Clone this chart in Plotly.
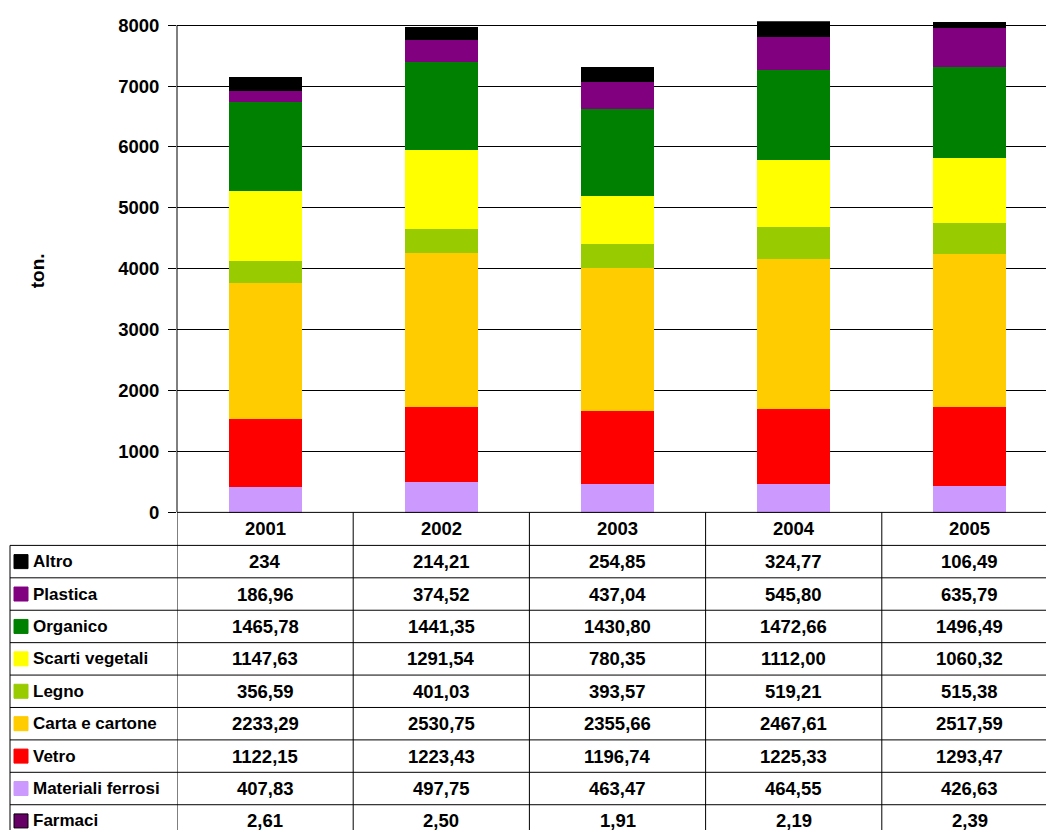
import plotly.graph_objects as go

# Raccolta differenziata per anno (tonnellate), valori come riportati in tabella
anni = ["2001", "2002", "2003", "2004", "2005"]

altro = ["234", "214,21", "254,85", "324,77", "106,49"]
plastica = ["186,96", "374,52", "437,04", "545,80", "635,79"]
organico = ["1465,78", "1441,35", "1430,80", "1472,66", "1496,49"]
scarti_vegetali = ["1147,63", "1291,54", "780,35", "1112,00", "1060,32"]
legno = ["356,59", "401,03", "393,57", "519,21", "515,38"]
carta_cartone = ["2233,29", "2530,75", "2355,66", "2467,61", "2517,59"]
vetro = ["1122,15", "1223,43", "1196,74", "1225,33", "1293,47"]
materiali_ferrosi = ["407,83", "497,75", "463,47", "464,55", "426,63"]
farmaci = ["2,61", "2,50", "1,91", "2,19", "2,39"]

y_ticks = [0, 1000, 2000, 3000, 4000, 5000, 6000, 7000, 8000]

# table order (top to bottom); bars are stacked in reverse order
serie = [
    ("Altro", altro, "#000000"),
    ("Plastica", plastica, "#800080"),
    ("Organico", organico, "#008000"),
    ("Scarti vegetali", scarti_vegetali, "#FFFF00"),
    ("Legno", legno, "#99CC00"),
    ("Carta e cartone", carta_cartone, "#FFCC00"),
    ("Vetro", vetro, "#FF0000"),
    ("Materiali ferrosi", materiali_ferrosi, "#CC99FF"),
    ("Farmaci", farmaci, "#660066"),
]


def num(s):
    return float(s.replace(",", "."))


# layout positions are given in screen pixels; the page body keeps its
# 8px top margin and the screen shows the page at ~0.98 vertical scale
W, H = 1046, 840
TOP = 8
K = 0.9805
SHIFT = 2
PLOT_L, PLOT_B, PLOT_T = 177, 512, 21
Y8000 = 25
CAT_W = 176.2
x_max = -0.5 + (W - PLOT_L) / CAT_W
px_per_unit = (PLOT_B - Y8000) / 8000.0
y_max = (PLOT_B - PLOT_T) / px_per_unit


def px(x):
    return x / W


def py(y):
    return 1 - ((y + SHIFT) / K - TOP) / H


FONT = "Liberation Sans, Arial, sans-serif"
FS = 17        # names
FS_NUM = 18.5  # numbers

fig = go.Figure()
xs = list(range(len(anni)))
for nome, valori, colore in reversed(serie):
    fig.add_trace(go.Bar(
        x=xs, y=[num(v) for v in valori], name=nome,
        marker=dict(color=colore, line=dict(width=0)),
        showlegend=False,
    ))

shapes = []
annotations = []

# left axis line, from 0 up to the last tick
shapes.append(dict(type="line", xref="paper", yref="y",
                   x0=px(PLOT_L), x1=px(PLOT_L), y0=0, y1=y_ticks[-1],
                   line=dict(color="black", width=1)))

# data table below the bars
HEAD_TOP, HEAD_BOT = PLOT_B, 545
ROW_H = 32.4
TABLE_L = 10
n_rows = len(serie)

# horizontal lines
shapes.append(dict(type="line", xref="paper", yref="paper",
                   x0=px(PLOT_L), x1=1, y0=py(HEAD_TOP), y1=py(HEAD_TOP),
                   line=dict(color="black", width=1)))
for i in range(n_rows + 1):
    yy = HEAD_BOT + i * ROW_H
    shapes.append(dict(type="line", xref="paper", yref="paper",
                       x0=px(TABLE_L), x1=1, y0=py(yy), y1=py(yy),
                       line=dict(color="black", width=1)))
# vertical lines
shapes.append(dict(type="line", xref="paper", yref="paper",
                   x0=px(TABLE_L), x1=px(TABLE_L), y0=py(HEAD_BOT), y1=0,
                   line=dict(color="black", width=1)))
for k in range(len(anni) + 1):
    shapes.append(dict(type="line", xref="x", yref="paper",
                       x0=k - 0.5, x1=k - 0.5, y0=py(HEAD_TOP), y1=0,
                       line=dict(color="black", width=1)))

# header with the years
for k, anno in enumerate(anni):
    annotations.append(dict(x=k, y=py((HEAD_TOP + HEAD_BOT) / 2), xref="x", yref="paper",
                            text=f"<b>{anno}</b>", showarrow=False,
                            font=dict(family=FONT, size=FS_NUM, color="black"),
                            xanchor="center", yanchor="middle"))

# rows: legend key, series name and values
for i, (nome, valori, colore) in enumerate(serie):
    yc = HEAD_BOT + ROW_H * (i + 0.5)
    shapes.append(dict(type="rect", xref="paper", yref="paper",
                       x0=px(14), x1=px(28), y0=py(yc - 7), y1=py(yc + 7),
                       fillcolor=colore,
                       line=dict(color="black" if nome == "Farmaci" else colore, width=1)))
    annotations.append(dict(x=px(31), y=py(yc), xref="paper", yref="paper",
                            text=f"<b>{nome}</b>", showarrow=False,
                            font=dict(family=FONT, size=FS, color="black"),
                            xanchor="left", yanchor="middle"))
    for k, v in enumerate(valori):
        annotations.append(dict(x=k, y=py(yc), xref="x", yref="paper",
                                text=f"<b>{v}</b>", showarrow=False,
                                font=dict(family=FONT, size=FS_NUM, color="black"),
                                xanchor="center", yanchor="middle"))

# y-axis title
annotations.append(dict(x=px(37), y=py(271), xref="paper", yref="paper",
                        text="<b>ton.</b>", showarrow=False, textangle=-90,
                        font=dict(family=FONT, size=19, color="black"),
                        xanchor="center", yanchor="middle"))

fig.update_layout(
    width=W, height=H,
    margin=dict(l=0, r=0, t=0, b=0),
    paper_bgcolor="white", plot_bgcolor="white",
    barmode="stack", bargap=1 - 73 / CAT_W,
    xaxis=dict(domain=[px(PLOT_L), 1], range=[-0.5, x_max],
               showticklabels=False, showgrid=False, zeroline=False,
               showline=False, ticks="", fixedrange=True),
    yaxis=dict(domain=[py(PLOT_B), py(PLOT_T)], range=[0, y_max],
               tickvals=y_ticks, ticktext=[f"<b>{t}</b>" for t in y_ticks],
               ticks="outside", ticklen=8, tickcolor="black", tickwidth=1,
               ticklabelstandoff=5,
               showgrid=True, gridcolor="black", gridwidth=1,
               zeroline=False, showline=False,
               tickfont=dict(family=FONT, size=FS_NUM, color="black"),
               fixedrange=True),
    shapes=shapes, annotations=annotations,
    showlegend=False,
)

fig.write_html("out.html", config={"displayModeBar": False})
